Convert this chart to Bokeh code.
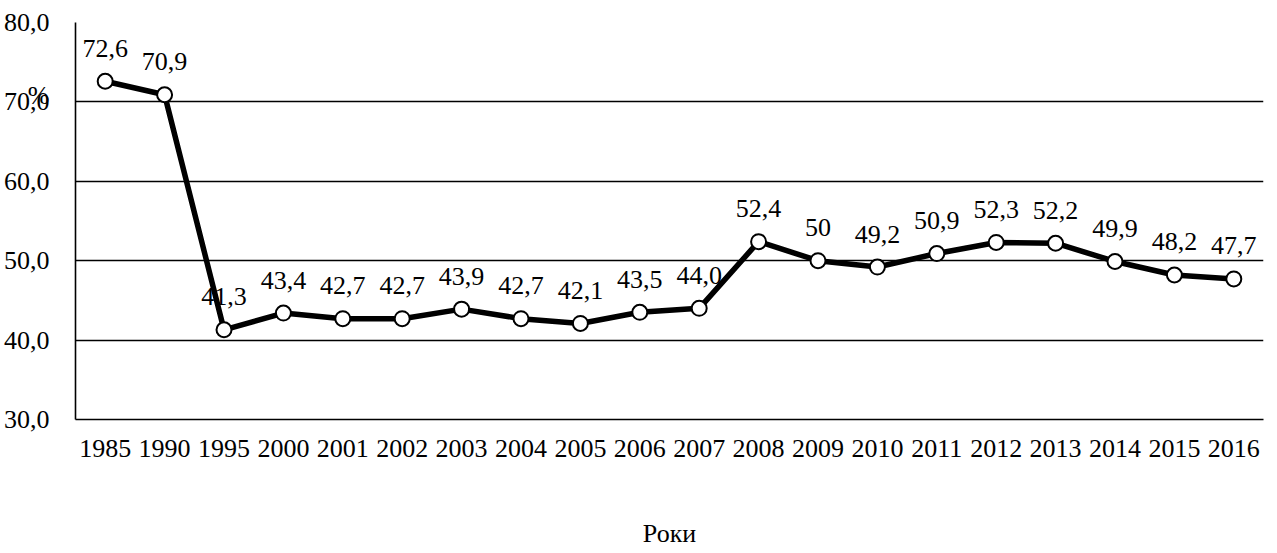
from bokeh.plotting import figure
from bokeh.models import ColumnDataSource, FixedTicker, Range1d
from bokeh.embed import file_html
from bokeh.resources import INLINE
from bokeh.core.properties import value

years = ["1985", "1990", "1995", "2000", "2001", "2002", "2003", "2004", "2005", "2006",
         "2007", "2008", "2009", "2010", "2011", "2012", "2013", "2014", "2015", "2016"]
values = [72.6, 70.9, 41.3, 43.4, 42.7, 42.7, 43.9, 42.7, 42.1, 43.5,
          44.0, 52.4, 50.0, 49.2, 50.9, 52.3, 52.2, 49.9, 48.2, 47.7]
labels = ["72,6", "70,9", "41,3", "43,4", "42,7", "42,7", "43,9", "42,7", "42,1", "43,5",
          "44,0", "52,4", "50", "49,2", "50,9", "52,3", "52,2", "49,9", "48,2", "47,7"]
y_ticks = [30, 40, 50, 60, 70, 80]
y_tick_labels = ["30,0", "40,0", "50,0", "60,0", "70,0", "80,0"]
x_title = "Роки"
y_title = "%"
y_title_at = 70.8

FONT = "Liberation Serif"
FS = "26px"

src = ColumnDataSource(dict(x=years, y=values, t=labels))

p = figure(x_range=years, y_range=Range1d(30, 80), width=1266, height=553,
           output_backend="svg", toolbar_location=None,
           min_border_left=70, min_border_right=3, min_border_top=22, min_border_bottom=134)
p.outline_line_color = None
p.background_fill_color = "white"
p.border_fill_color = "white"

p.xgrid.grid_line_color = None
p.ygrid.grid_line_color = "black"
p.ygrid.grid_line_width = 1.6
p.ygrid.ticker = FixedTicker(ticks=y_ticks)
# the "%" title sits among the y tick labels, as in the reference
p.yaxis.ticker = FixedTicker(ticks=y_ticks + [y_title_at])
overrides = {t: s for t, s in zip(y_ticks, y_tick_labels)}
overrides[y_title_at] = y_title
p.yaxis.major_label_overrides = overrides

for ax in (p.xaxis[0], p.yaxis[0]):
    ax.axis_line_color = "black"
    ax.axis_line_width = 1.6
    ax.major_tick_line_color = None
    ax.minor_tick_line_color = None
    ax.major_label_text_font = FONT
    ax.major_label_text_font_size = FS
    ax.major_label_text_color = "black"

p.yaxis.major_label_standoff = 20
p.xaxis.major_label_standoff = 14
p.xaxis.axis_label = x_title
p.xaxis.axis_label_text_font = FONT
p.xaxis.axis_label_text_font_size = FS
p.xaxis.axis_label_text_font_style = "normal"
p.xaxis.axis_label_text_color = "black"
p.xaxis.axis_label_standoff = 59

p.line("x", "y", source=src, line_color="black", line_width=5.5)
p.scatter("x", "y", source=src, size=15, fill_color="white", line_color="black", line_width=2)
p.text("x", "y", text="t", source=src, text_font=value(FONT), text_font_size=FS,
       text_align="center", text_baseline="middle", y_offset=-33, text_color="black")

open("out.html", "w").write(file_html(p, INLINE))
